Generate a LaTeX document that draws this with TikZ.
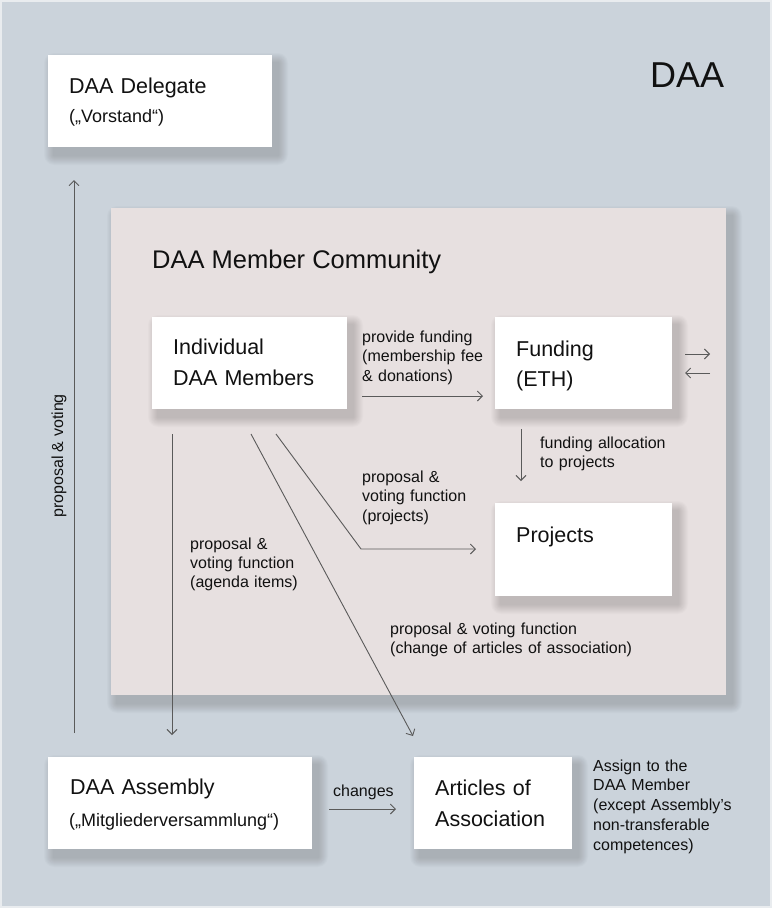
\documentclass[tikz,border=0pt]{standalone}
\usepackage{fontspec}
\setmainfont{Liberation Sans}
\usetikzlibrary{arrows.meta}
\definecolor{bgc}{HTML}{CBD3DB}
\definecolor{commc}{HTML}{E7E0E0}
\definecolor{linec}{HTML}{5A5A5A}
\definecolor{txtc}{HTML}{111111}
\definecolor{edgec}{HTML}{E9ECEF}
\tikzset{
  box/.style={fill=white, draw=none, inner sep=0pt, anchor=north west},
  commbox/.style={fill=commc, draw=none, inner sep=0pt, anchor=north west},
  ttl/.style={font=\fontsize{21.5}{31}\selectfont, text=txtc, anchor=base west, inner sep=0pt, align=left, text width=200pt},
  sub/.style={font=\fontsize{18}{22}\selectfont, text=txtc, anchor=base west, inner sep=0pt},
  lbl/.style={font=\fontsize{16}{19.7}\selectfont, text=txtc, anchor=base west, inner sep=0pt, align=left, text width=260pt},
  conn/.style={draw=linec, line width=0.9pt, -{Straight Barb[length=5pt,width=10pt]}},
  softshade/.style={fill=black, opacity=0.017}
}
% #1 style, #2 name, #3 x, #4 y, #5 width, #6 height
\newcommand\mkbox[6]{%
  \foreach \r in {1,...,10}{%
    \fill[softshade, rounded corners=\r pt] ({#3+6-\r},{#4+8-\r}) rectangle ({#3+#5+6+\r},{#4+#6+8+\r});}
  \node[#1, minimum width=#5 pt, minimum height=#6 pt] (#2) at (#3,#4) {};}
\begin{document}
\begin{tikzpicture}[x=1pt,y=-1pt]
\useasboundingbox (0,0) rectangle (772,908);
\fill[bgc] (0,0) rectangle (772,908);
\draw[edgec, line width=2pt] (1,1) rectangle (771,907);

% big label
\node[font=\fontsize{36}{40}\selectfont, text=txtc, anchor=base west, inner sep=0pt] (daa) at (650,87) {DAA};

% community
\mkbox{commbox}{comm}{111}{208}{615}{487}
\node[font=\fontsize{25.5}{30}\selectfont, text=txtc, anchor=base west, inner sep=0pt] (commt) at (152,268) {DAA Member Community};

% boxes
\mkbox{box}{deleg}{48}{55}{224}{92}
\node[ttl] (delegt) at (69,93) {DAA Delegate};
\node[sub] (delegs) at (69,122) {(„Vorstand“)};

\mkbox{box}{indiv}{152}{317}{195}{92}
\node[ttl] (indivt) at (173,354) {Individual\\DAA Members};

\mkbox{box}{fund}{495}{317}{177}{92}
\node[ttl, font=\fontsize{21.5}{30}\selectfont] (fundt) at (516,356) {Funding\\(ETH)};

\mkbox{box}{proj}{495}{503}{177}{93}
\node[ttl] (projt) at (516,542) {Projects};

\mkbox{box}{assem}{48}{757}{264}{92}
\node[ttl] (assemt) at (70,794) {DAA Assembly};
\node[sub] (assems) at (69,826) {(„Mitgliederversammlung“)};

\mkbox{box}{artic}{414}{757}{158}{92}
\node[ttl] (artict) at (435,795) {Articles of\\Association};

% labels
\node[lbl] (lpf) at (362,342) {provide funding\\(membership fee\\\& donations)};
\node[lbl] (lfa) at (540,448) {funding allocation\\to projects};
\node[lbl] (lpj) at (362,482) {proposal \&\\voting function\\(projects)};
\node[lbl, font=\fontsize{16}{19.3}\selectfont] (lag) at (190,549) {proposal \&\\voting function\\(agenda items)};
\node[lbl] (lca) at (390,634) {proposal \& voting function\\(change of articles of association)};
\node[lbl] (lch) at (333,796) {changes};
\node[lbl, font=\fontsize{16}{19.8}\selectfont] (las) at (593,771) {Assign to the\\DAA Member\\(except Assembly’s\\non-transferable\\competences)};
\node[font=\fontsize{16}{19.7}\selectfont, text=txtc, anchor=base west, inner sep=0pt, rotate=90] (lpv) at (63,518) {proposal \& voting};

% connector end points
\coordinate (pvb) at (74,733);
\coordinate (pvt) at (74,180);
\coordinate (ag1) at (172,434);
\coordinate (ag2) at (172,735);
\coordinate (ar1) at (251,434);
\coordinate (ar2) at (413,736);
\coordinate (pj1) at (276,434);
\coordinate (pj2) at (361,549);
\coordinate (pj3) at (476,549);
\coordinate (pf1) at (362,396);
\coordinate (pf2) at (483,396);
\coordinate (fa1) at (521,429);
\coordinate (fa2) at (521,481);
\coordinate (eo1) at (685,354);
\coordinate (eo2) at (710,354);
\coordinate (ei1) at (710,373);
\coordinate (ei2) at (685,373);
\coordinate (ch1) at (329,809);
\coordinate (ch2) at (396,809);

% connectors
\draw[conn] (pvb) -- (pvt);
\draw[conn] (ag1) -- (ag2);
\draw[conn] (ar1) -- (ar2);
\draw[conn] (pj1) -- (pj2) -- (pj3);
\draw[conn] (pf1) -- (pf2);
\draw[conn] (fa1) -- (fa2);
\draw[conn] (eo1) -- (eo2);
\draw[conn] (ei1) -- (ei2);
\draw[conn] (ch1) -- (ch2);
\end{tikzpicture}
\end{document}
